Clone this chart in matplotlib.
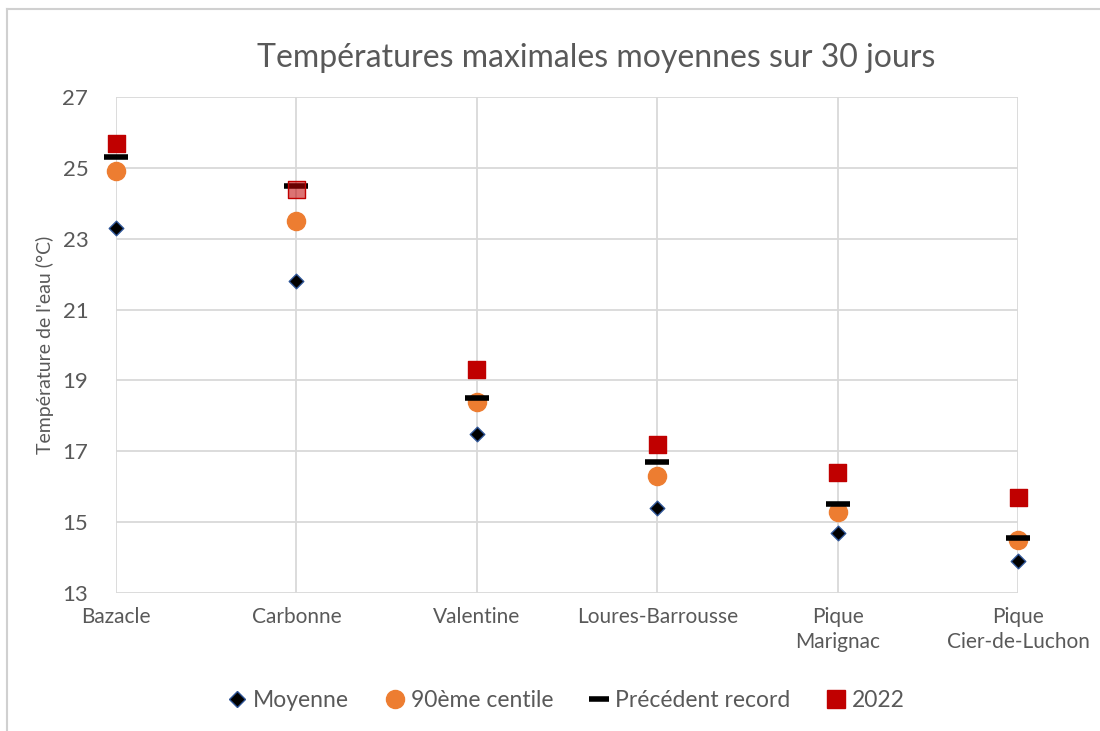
"""Températures maximales moyennes sur 30 jours - stations"""
import numpy as np
import matplotlib.pyplot as plt
from matplotlib.lines import Line2D

plt.rcParams['font.family'] = ['Lato', 'DejaVu Sans']

stations = ["Bazacle", "Carbonne", "Valentine", "Loures-Barrousse",
            "Pique\nMarignac", "Pique\nCier-de-Luchon"]
moyenne = [23.3, 21.8, 17.5, 15.4, 14.7, 13.9]
centile90 = [24.9, 23.5, 18.4, 16.3, 15.3, 14.5]
record = [25.3, 24.5, 18.5, 16.7, 15.5, 14.55]
an2022 = [25.7, 24.4, 19.3, 17.2, 16.4, 15.7]
alpha2022 = [1.0, 0.55, 1.0, 1.0, 1.0, 1.0]
yticks = [13, 15, 17, 19, 21, 23, 25, 27]

grey = "#595959"
x = np.arange(len(stations))

fig = plt.figure(figsize=(11, 7.31), dpi=100)
ax = fig.add_axes([0.1055, 0.1888, 0.82, 0.6785])

ax.scatter(x, moyenne, marker="D", s=55, c="black", edgecolors="#2F5597",
           linewidths=1.0, zorder=3, clip_on=False)
ax.scatter(x, centile90, marker="o", s=170, c="#ED7D31", zorder=3, clip_on=False)
ax.scatter(x, record, marker="_", s=300, c="black", linewidths=4, zorder=4,
           clip_on=False)
cols = [(0.753, 0.0, 0.0, a) for a in alpha2022]
ax.scatter(x, an2022, marker="s", s=150, c=cols, edgecolors="#C00000",
           linewidths=1.0, zorder=5, clip_on=False)

ax.set_xlim(0, len(stations) - 1)
ax.set_ylim(13, 27)
ax.set_yticks(yticks)
ax.set_xticks(x)
ax.set_xticklabels(stations, fontsize=15, color=grey, linespacing=1.3)
ax.tick_params(axis="y", labelsize=16, colors=grey, length=0, pad=20)
ax.tick_params(axis="x", length=0, pad=10)
ax.grid(True, color="#D9D9D9", linewidth=1.3)
ax.set_axisbelow(True)
for s in ax.spines.values():
    s.set_visible(False)
ax.set_ylabel("Température de l'eau (°C)", fontsize=14, color=grey, labelpad=6)

fig.text(0.542, 0.92, "Températures maximales moyennes sur 30 jours",
         ha="center", va="center", fontsize=23, color=grey)

legend_elements = [
    Line2D([0], [0], marker="D", color="none", markerfacecolor="black",
           markeredgecolor="#2F5597", markersize=8, label="Moyenne"),
    Line2D([0], [0], marker="o", color="none", markerfacecolor="#ED7D31",
           markeredgecolor="#ED7D31", markersize=13, label="90ème centile"),
    Line2D([0], [0], marker="_", color="none", markeredgecolor="black",
           markersize=14, markeredgewidth=4, label="Précédent record"),
    Line2D([0], [0], marker="s", color="none", markerfacecolor="#C00000",
           markeredgecolor="#C00000", markersize=13, label="2022"),
]
leg = fig.legend(handles=legend_elements, loc="center", ncol=4,
                 bbox_to_anchor=(0.515, 0.042), frameon=False, fontsize=16.5,
                 handlelength=0.8, handletextpad=0.3, columnspacing=1.6)
for t in leg.get_texts():
    t.set_color(grey)

# chart frame
fig.add_artist(Line2D([0.006, 1.0], [0.988, 0.988], transform=fig.transFigure,
                      color="#D0D0D0", linewidth=1.5))
fig.add_artist(Line2D([0.006, 0.006], [0.0, 0.988], transform=fig.transFigure,
                      color="#D0D0D0", linewidth=1.5))

plt.savefig("out.png", dpi=100)
